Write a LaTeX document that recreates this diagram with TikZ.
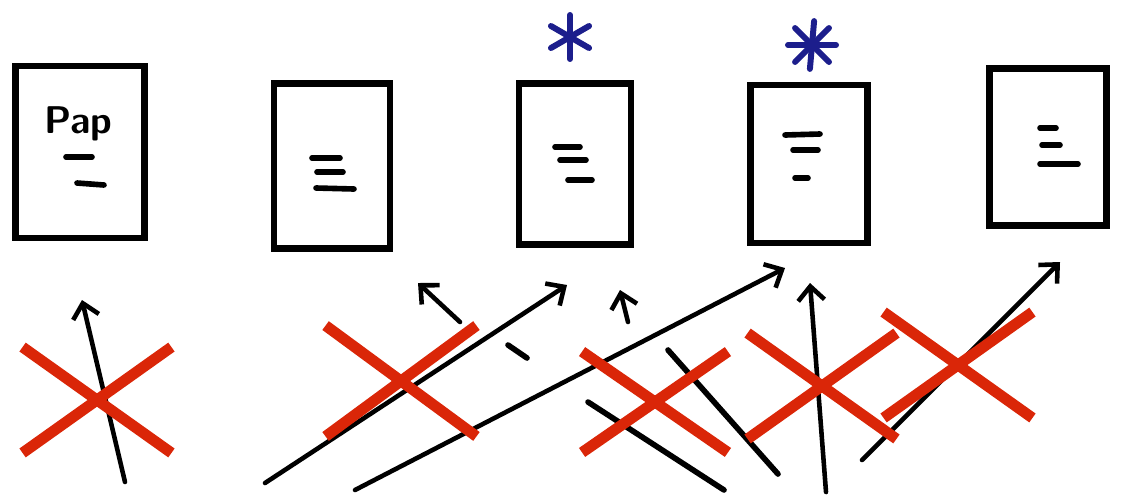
\documentclass[tikz,border=0pt]{standalone}
\usetikzlibrary{arrows.meta,shapes.misc}
\definecolor{xred}{RGB}{218,38,8}
\definecolor{xblue}{RGB}{28,30,140}
\tikzset{paper/.style = {shape = rectangle, draw, line width = 3.6pt, inner sep = 0pt}}
\tikzset{edge/.style = {-{Straight Barb[length = 8pt, width = 15pt, line width = 2.6pt]}, line width = 2.6pt, line cap = round}}
\tikzset{txtline/.style = {line width = 3.2pt, line cap = round}}
\tikzset{cross/.style = {cross out, draw = xred, line width = 6.2pt, inner sep = 0pt}}
\tikzset{star/.style = {draw = xblue, line width = 3.4pt, line cap = round}}

\begin{document}
\begin{tikzpicture}[x = 0.02cm, y = -0.02cm]
			\useasboundingbox (0, 0) rectangle (1124, 498);

			% papers
			\node[paper, minimum width = 2.58cm, minimum height = 3.44cm] (p1) at (80, 152) {};
			\node[paper, minimum width = 2.32cm, minimum height = 3.3cm] (p2) at (332, 166) {};
			\node[paper, minimum width = 2.24cm, minimum height = 3.22cm] (p3) at (575, 164) {};
			\node[paper, minimum width = 2.34cm, minimum height = 3.16cm] (p4) at (809, 164) {};
			\node[paper, minimum width = 2.34cm, minimum height = 3.14cm] (p5) at (1048, 147) {};

			\node[font = \sffamily\bfseries\fontsize{22}{22}\selectfont] (title) at (78, 124) {Pap};
			\draw[txtline] (66, 157) -- (92, 157);
			\draw[txtline] (77, 183) -- (104, 185);

			\draw[txtline] (312, 158) -- (340, 158);
			\draw[txtline] (317, 172) -- (343, 172);
			\draw[txtline] (316, 188) -- (354, 189);
			\draw[txtline] (555, 147) -- (580, 147);
			\draw[txtline] (560, 160) -- (586, 160);
			\draw[txtline] (568, 180) -- (592, 180);
			\draw[txtline] (785, 135) -- (820, 134);
			\draw[txtline] (793, 150) -- (818, 150);
			\draw[txtline] (795, 178) -- (808, 178);
			\draw[txtline] (1040, 128) -- (1056, 128);
			\draw[txtline] (1042, 145) -- (1060, 145);
			\draw[txtline] (1040, 164) -- (1078, 164);

			% stars
			\coordinate (s3) at (570, 37);
			\coordinate (s4) at (812, 45);
			\foreach \a in {90, 150, 210, 270, 330, 30}
				\draw[star] (s3) -- ++(\a:22);
			\foreach \a in {0, 45, 95, 135, 180, 225, 275, 315}
				\draw[star] (s4) -- ++(\a:24);

			% arrows
			\coordinate (t1) at (125, 482);  \coordinate (h1) at (82, 300);
			\coordinate (t2) at (460, 322);  \coordinate (h2) at (418, 283);
			\coordinate (t3) at (265, 483);  \coordinate (h3) at (567, 285);
			\coordinate (t4) at (355, 490);  \coordinate (h4) at (785, 268);
			\coordinate (t5) at (628, 322);  \coordinate (h5) at (620, 290);
			\coordinate (t6) at (826, 492);  \coordinate (h6) at (810, 283);
			\coordinate (t7) at (862, 460);  \coordinate (h7) at (1060, 262);
			\foreach \n in {1, ..., 7}
				\draw[edge] (t\n) -- (h\n);

			\coordinate (d1) at (508, 345);  \coordinate (d2) at (527, 358);
			\coordinate (l1) at (588, 402);  \coordinate (l2) at (724, 490);
			\coordinate (l3) at (668, 350);  \coordinate (l4) at (778, 474);
			\draw[txtline] (d1) -- (d2);
			\draw[txtline] (l1) -- (l2);
			\draw[txtline] (l3) -- (l4);

			% crosses
			\node[cross, minimum width = 2.76cm, minimum height = 1.9cm] (x1) at (97, 400) {};
			\node[cross, minimum width = 2.8cm, minimum height = 2cm] (x2) at (401, 381) {};
			\node[cross, minimum width = 2.7cm, minimum height = 1.8cm] (x3) at (655, 402) {};
			\node[cross, minimum width = 2.76cm, minimum height = 1.9cm] (x4) at (822, 386) {};
			\node[cross, minimum width = 2.76cm, minimum height = 1.9cm] (x5) at (958, 365) {};
		\end{tikzpicture}
\end{document}
